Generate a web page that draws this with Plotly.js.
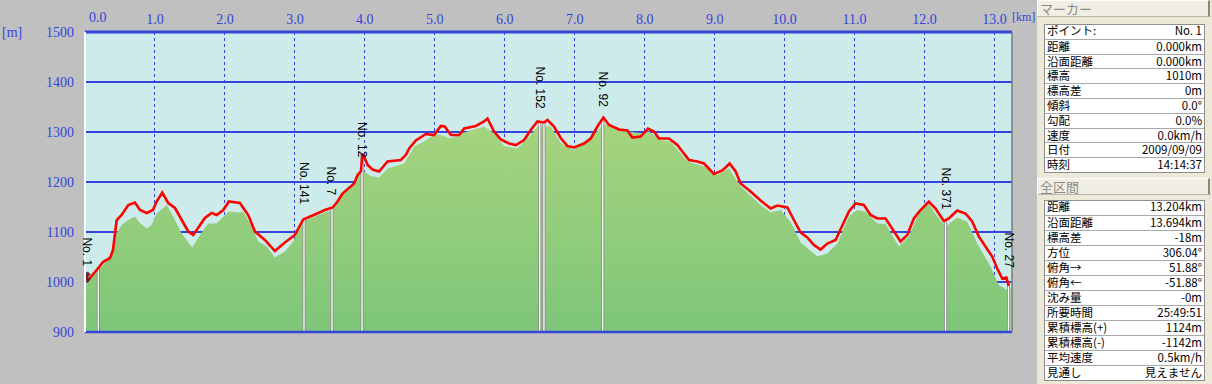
<!DOCTYPE html>
<html>
<head>
<meta charset="utf-8">
<script src="https://cdn.plot.ly/plotly-3.0.1.min.js"></script>
<style>
  html, body { margin: 0; padding: 0; background: #c0c0c0; }
  #wrap { position: relative; width: 1212px; height: 384px; overflow: hidden; background: #c0c0c0; }
  #chart { position: absolute; left: 0; top: 0; width: 1037px; height: 384px; }
  #panel { position: absolute; left: 1037px; top: 0; width: 175px; height: 384px; background: #ece9d8; }
  .hdr { position: absolute; left: 0; height: 17px; background: #f1efe4;
         border-top: 1px solid #fff; border-left: 1px solid #fff; border-right: 2px solid #8a8878; border-bottom: 1px solid #b8b6a8;
         font: 13px "Noto Sans CJK JP", sans-serif; color: #8a8a8a; line-height: 15px; padding-left: 2px; box-sizing: border-box; width: 173px; }
  .tbl { position: absolute; left: 7px; width: 161px; background: #fff; border: 1px solid #8c8c8c; box-sizing: border-box; }
  .row { position: absolute; left: 0; right: 0; border-top: 1px solid #a8a8a8; box-sizing: border-box;
         font: 11.5px "Noto Sans CJK JP", sans-serif; color: #000; }
  .row .l { position: absolute; left: 2px; top: 0; line-height: 13.5px; height: 13.5px; white-space: nowrap; }
  .row .v { position: absolute; right: 2px; top: 0; line-height: 13.5px; height: 13.5px; white-space: nowrap; }
</style>
</head>
<body>
<div id="wrap">
  <div id="chart"></div>
  <div id="panel"></div>
</div>
<script>
// ---- track elevation (red line) ----
const trackDist = [0.000,0.047,0.190,0.257,0.357,0.400,0.453,0.524,0.619,0.714,0.786,0.881,0.971,1.024,1.104,1.190,1.286,1.381,1.476,1.547,1.619,1.714,1.810,1.881,1.976,2.057,2.214,2.333,2.429,2.571,2.714,2.857,3.000,3.119,3.286,3.429,3.539,3.610,3.681,3.776,3.847,3.896,3.943,3.967,3.990,4.039,4.110,4.204,4.324,4.514,4.586,4.633,4.729,4.871,4.990,5.086,5.143,5.229,5.347,5.419,5.586,5.704,5.753,5.847,5.943,6.061,6.157,6.276,6.371,6.467,6.561,6.610,6.704,6.800,6.896,6.990,7.133,7.229,7.324,7.410,7.490,7.633,7.753,7.824,7.943,8.047,8.133,8.204,8.347,8.467,8.561,8.633,8.753,8.847,8.990,9.110,9.214,9.300,9.371,9.514,9.657,9.800,9.896,10.039,10.133,10.229,10.324,10.419,10.514,10.610,10.729,10.824,10.919,11.014,11.133,11.229,11.324,11.443,11.561,11.657,11.753,11.847,11.943,12.061,12.157,12.276,12.347,12.467,12.586,12.681,12.776,12.896,12.967,13.039,13.110,13.170,13.204];
const trackElev = [1010,1004,1028,1040,1048,1064,1124,1134,1154,1159,1144,1138,1144,1161,1179,1158,1148,1124,1101,1094,1108,1128,1138,1134,1144,1161,1158,1134,1101,1084,1062,1079,1094,1125,1135,1144,1149,1161,1177,1189,1197,1214,1221,1257,1251,1234,1225,1221,1241,1244,1254,1267,1283,1296,1294,1312,1311,1294,1294,1307,1312,1321,1327,1301,1285,1277,1274,1284,1304,1321,1319,1324,1311,1288,1272,1269,1277,1287,1311,1329,1314,1305,1303,1289,1291,1307,1301,1287,1287,1274,1257,1244,1241,1237,1216,1223,1237,1221,1197,1181,1163,1147,1153,1149,1124,1099,1089,1074,1065,1077,1084,1111,1141,1157,1154,1134,1127,1127,1101,1081,1094,1127,1144,1161,1147,1122,1127,1143,1137,1121,1091,1067,1051,1027,1007,1009,992];

// ---- terrain elevation (green area) ----
const terrDist = [0.000,0.190,0.357,0.453,0.524,0.619,0.714,0.786,0.881,0.953,1.024,1.167,1.261,1.381,1.533,1.643,1.761,1.881,1.953,2.057,2.214,2.261,2.381,2.476,2.596,2.714,2.857,2.976,3.119,3.286,3.429,3.539,3.657,3.847,3.943,3.990,4.086,4.204,4.324,4.561,4.704,4.847,5.014,5.229,5.371,5.704,5.847,5.990,6.181,6.371,6.467,6.657,6.800,6.990,7.324,7.410,7.753,7.990,8.061,8.229,8.371,8.610,8.847,9.039,9.204,9.371,9.657,9.800,9.943,10.086,10.229,10.467,10.610,10.753,10.919,11.039,11.157,11.324,11.443,11.633,11.776,11.896,12.039,12.181,12.300,12.467,12.610,12.753,12.943,13.061,13.180,13.230];
const terrElev = [992,1024,1048,1098,1114,1124,1131,1118,1107,1114,1137,1154,1131,1097,1069,1094,1117,1117,1127,1141,1139,1141,1111,1081,1071,1049,1061,1081,1121,1131,1139,1144,1171,1194,1227,1221,1212,1209,1227,1237,1271,1281,1297,1287,1297,1311,1297,1272,1267,1294,1311,1311,1278,1264,1301,1316,1301,1297,1301,1284,1281,1241,1231,1214,1227,1191,1154,1139,1144,1120,1079,1051,1057,1077,1131,1144,1141,1117,1116,1071,1091,1131,1161,1131,1111,1129,1121,1077,1031,994,984,990];

// ---- waypoint markers ----
const markerNames = ["No. 1","No. 141","No. 7","No. 12","No. 152","No. 92","No. 371","No. 27"];
const markerLineDist = [[0.19],[3.13],[3.53],[3.96],[6.50,6.56],[7.40],[12.30],[13.20]];
const markerLineTop  = [[1028],[1127],[1148],[1258],[1321,1321],[1326],[1122],[1000]];
const markerLabelDist = [0.03,3.13,3.53,3.96,6.51,7.41,12.30,13.20];
const markerLabelTop  = [1094,1244,1234,1324,1434,1424,1234,1104];

// ---- axes ----
const xTicks = [1,2,3,4,5,6,7,8,9,10,11,12,13];
const xTickText = ["1.0","2.0","3.0","4.0","5.0","6.0","7.0","8.0","9.0","10.0","11.0","12.0","13.0"];
const yTicks = [900,1000,1100,1200,1300,1400,1500];

// ---- side panel ----
const markerLabels = ["ポイント:","距離","沿面距離","標高","標高差","傾斜","勾配","速度","日付","時刻"];
const markerValues = ["No. 1","0.000km","0.000km","1010m","0m","0.0°","0.0%","0.0km/h","2009/09/09","14:14:37"];
const totalLabels = ["距離","沿面距離","標高差","方位","俯角→","俯角←","沈み量","所要時間","累積標高(+)","累積標高(-)","平均速度","見通し"];
const totalValues = ["13.204km","13.694km","-18m","306.04°","51.88°","-51.88°","-0m","25:49:51","1124m","-1142m","0.5km/h","見えません"];

const BLUE = "#3444dd";
const tickFont = {family: "Liberation Serif, DejaVu Serif, serif", size: 14, color: BLUE};

const traces = [];
traces.push({
  x: terrDist, y: terrElev, type: "scatter", mode: "lines",
  line: {width: 0, color: "rgba(0,0,0,0)"},
  fill: "tozeroy", fillcolor: "#8fcc78",
  fillgradient: {type: "vertical", start: 900, stop: 1320,
    colorscale: [[0, "#7ec679"], [1, "#a6d47e"]]},
  hoverinfo: "skip", showlegend: false
});
markerLineDist.forEach((ds, i) => {
  const xs = [], ys = [];
  ds.forEach((d, j) => { xs.push(d, d, null); ys.push(900, markerLineTop[i][j], null); });
  traces.push({x: xs, y: ys, type: "scatter", mode: "lines", line: {color: "#8a8a8a", width: 3}, hoverinfo: "skip", showlegend: false});
  traces.push({x: xs, y: ys, type: "scatter", mode: "lines", line: {color: "#ffffff", width: 1.3}, hoverinfo: "skip", showlegend: false});
});
traces.push({
  x: trackDist, y: trackElev, type: "scatter", mode: "lines",
  line: {color: "#ff0000", width: 2.6}, hoverinfo: "skip", showlegend: false
});
traces.push({
  x: [trackDist[0]], y: [trackElev[0]], type: "scatter", mode: "markers",
  marker: {symbol: "x", size: 9, color: "#7a1c24", line: {width: 1, color: "#5a3a20"}},
  hoverinfo: "skip", showlegend: false
});

const annotations = markerNames.map((n, i) => ({
  x: markerLabelDist[i], y: markerLabelTop[i], xref: "x", yref: "y",
  text: n, showarrow: false, textangle: 90, xanchor: "center", yanchor: "top",
  font: {family: "Liberation Sans, Arial, sans-serif", size: 12, color: "#000"}
}));
annotations.push({x: 0, y: 1, xref: "paper", yref: "paper", xshift: 13, yshift: 15, text: "0.0",
  showarrow: false, xanchor: "center", yanchor: "middle", font: tickFont});
annotations.push({x: 1, y: 1, xref: "paper", yref: "paper", xshift: -1, yshift: 15, text: "[km]",
  showarrow: false, xanchor: "left", yanchor: "middle", borderpad: 0,
  font: {family: tickFont.family, size: 12, color: BLUE}});
annotations.push({x: 0, y: 1, xref: "paper", yref: "paper", xshift: -73, yshift: 0, text: "[m]",
  showarrow: false, xanchor: "center", yanchor: "middle", font: tickFont});

const shapes = [
  {type: "line", xref: "paper", yref: "paper", x0: 0, x1: 1, y0: 1, y1: 1, line: {color: BLUE, width: 3}},
  {type: "line", xref: "paper", yref: "paper", x0: 0, x1: 1, y0: 0, y1: 0, line: {color: BLUE, width: 2.5}},
  {type: "line", xref: "paper", yref: "paper", x0: 0, x1: 0, y0: 0, y1: 1, line: {color: "#ffffff", width: 2}},
  {type: "line", xref: "paper", yref: "paper", x0: 1, x1: 1, y0: 0, y1: 1, line: {color: "#7a7a7a", width: 1.5}}
];

const layout = {
  width: 1037, height: 384,
  margin: {l: 85, r: 25, t: 32, b: 52, pad: 0},
  paper_bgcolor: "#c0c0c0", plot_bgcolor: "#ccebea",
  showlegend: false,
  xaxis: {range: [0, 13.25], side: "top", tickvals: xTicks, ticktext: xTickText,
    tickfont: tickFont, showgrid: true, gridcolor: BLUE, gridwidth: 1, griddash: "dot",
    zeroline: false, showline: false, ticks: "", ticklabelstandoff: 4, fixedrange: true},
  yaxis: {range: [900, 1500], tickvals: yTicks, tickfont: tickFont, showgrid: true,
    gridcolor: BLUE, gridwidth: 2, zeroline: false, showline: false, ticks: "",
    ticklabelstandoff: 10, fixedrange: true},
  annotations: annotations, shapes: shapes
};

Plotly.newPlot("chart", traces, layout, {staticPlot: true, displayModeBar: false});

// ---- build side panel ----
const panel = document.getElementById("panel");
function header(text, top) {
  const h = document.createElement("div");
  h.className = "hdr"; h.style.top = top + "px"; h.textContent = text;
  panel.appendChild(h);
}
function table(labels, values, top, rowH) {
  const t = document.createElement("div");
  t.className = "tbl"; t.style.top = top + "px"; t.style.height = (labels.length * rowH + 1) + "px";
  labels.forEach((lab, i) => {
    const r = document.createElement("div");
    r.className = "row";
    r.style.top = (i * rowH - 1) + "px"; r.style.height = (rowH + 1) + "px";
    if (i === 0) r.style.borderTop = "none";
    const l = document.createElement("span"); l.className = "l"; l.textContent = lab;
    const v = document.createElement("span"); v.className = "v"; v.textContent = values[i];
    r.appendChild(l); r.appendChild(v); t.appendChild(r);
  });
  panel.appendChild(t);
}
header("マーカー", 0);
table(markerLabels, markerValues, 24, 14.8);
header("全区間", 178);
table(totalLabels, totalValues, 200, 15);
</script>
</body>
</html>
